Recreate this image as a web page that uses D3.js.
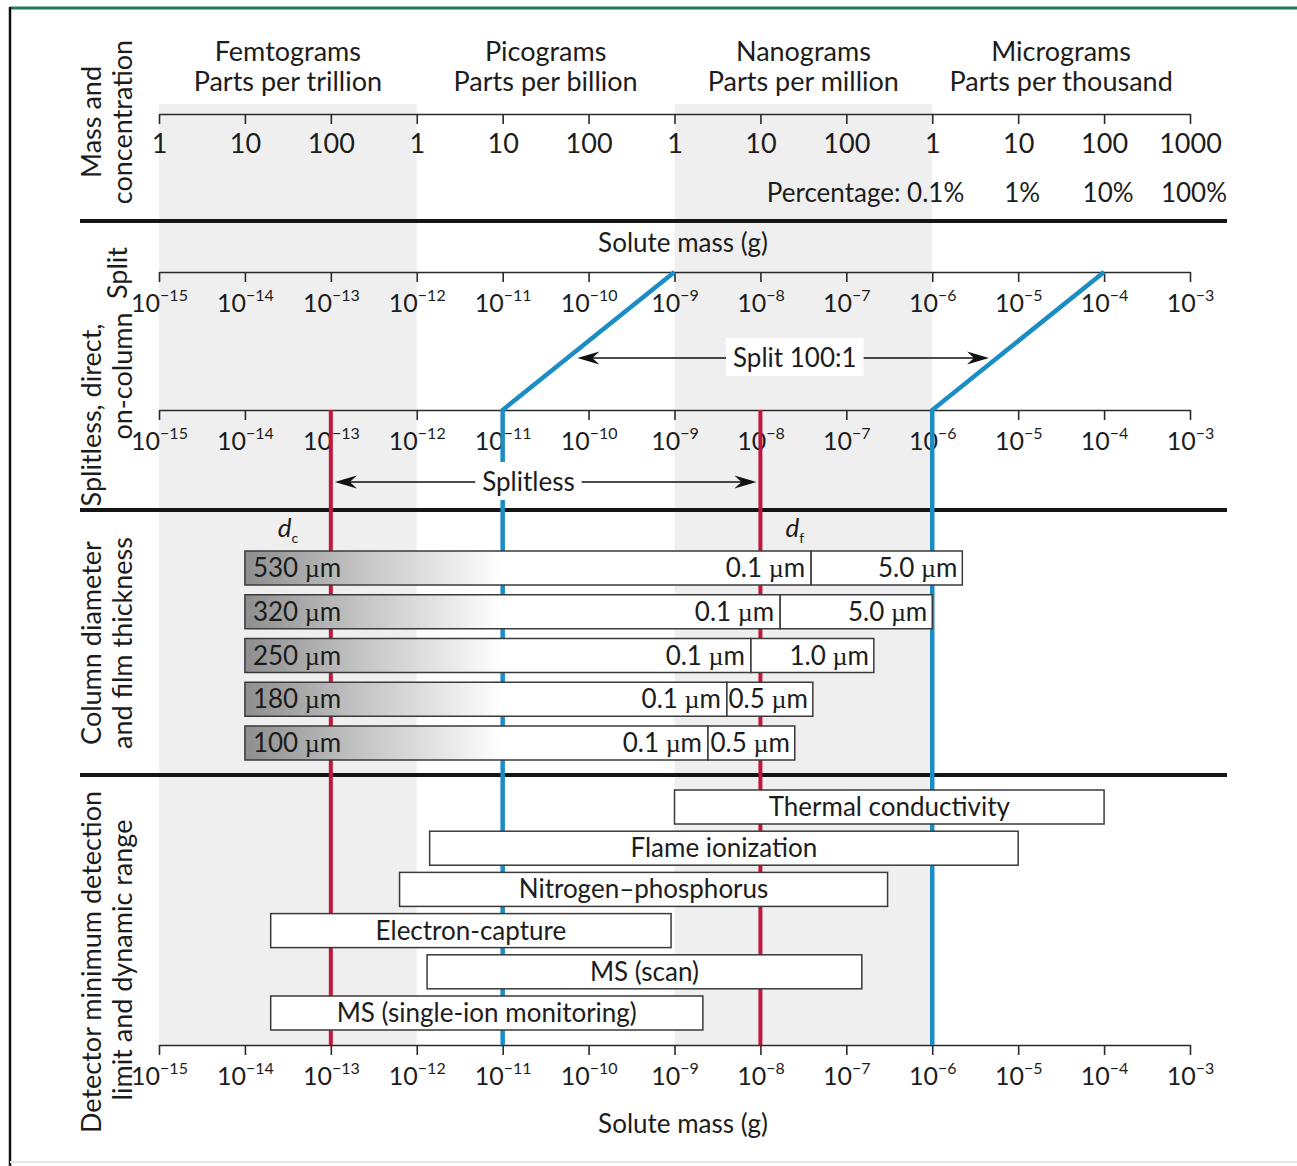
<!DOCTYPE html>
<html lang="en">
<head>
<meta charset="UTF-8">
<title>GC solute mass ranges</title>
<style>
  body { margin: 0; background: #fff; }
  svg text { font-family: Lato, "Noto Sans", sans-serif; fill: #1c1c1c; }
</style>
</head>
<body>
<svg id="chart" width="1297" height="1166"></svg>
<script src="https://d3js.org/d3.v7.min.js"></script>
<script>
// solute mass decades, log10(g)
var decades = d3.range(-15, -2);
var massUnits = ["Femtograms", "Picograms", "Nanograms", "Micrograms"];
var concUnits = ["Parts per trillion", "Parts per billion", "Parts per million", "Parts per thousand"];
var topTickLabels = ["1", "10", "100", "1", "10", "100", "1", "10", "100", "1", "10", "100", "1000"];
var pctLabels = ["0.1%", "1%", "10%", "100%"];
var pctDecades = [-6, -5, -4, -3];
var shadedBands = [[-15, -12], [-9, -6]];

// injection: splitless range on the column, split shifts it by log10(100)
var splitlessLimits = [-11, -6];
var splitShift = 2;
// column capacity limits (d_c and d_f)
var capacityLimits = [-13, -8];

// columns: diameter, start, thin film end, thick film end
var colDiam = ["530 \u00b5m", "320 \u00b5m", "250 \u00b5m", "180 \u00b5m", "100 \u00b5m"];
var colStart = [-14, -14, -14, -14, -14];
var colThinEnd = [-7.41, -7.77, -8.11, -8.39, -8.61];
var colThickEnd = [-5.65, -6.0, -6.68, -7.39, -7.6];
var thinFilm = ["0.1", "0.1", "0.1", "0.1", "0.1"];
var thickFilm = ["5.0", "5.0", "1.0", "0.5", "0.5"];

// detectors: minimum detection limit and top of dynamic range
var detNames = ["Thermal conductivity", "Flame ionization", "Nitrogen\u2013phosphorus",
                "Electron-capture", "MS (scan)", "MS (single-ion monitoring)"];
var detLow = [-9, -11.85, -12.2, -13.7, -11.88, -13.7];
var detHigh = [-4, -5, -6.52, -9.04, -6.82, -8.67];

var sideLabels = [
  {lines: ["Mass and", "concentration"], y: [122, 122]},
  {lines: ["Splitless, direct,", "on-column"], y: [415, 376]},
  {lines: ["Column diameter", "and film thickness"], y: [643, 643]},
  {lines: ["Detector minimum detection", "limit and dynamic range"], y: [962, 960]}
];

var svg = d3.select("#chart");
var BLUE = "#1b8cc4", RED = "#c2173d", INK = "#2a2a2a";

var x = d3.scaleLog().domain([1e-15, 1e-3]).range([159, 1190]);
function xl(p) { return x(Math.pow(10, p)); }

// frame
svg.append("line").attr("x1", 10).attr("x2", 1297).attr("y1", 8).attr("y2", 8)
  .attr("stroke", "#1f7a5c").attr("stroke-width", 3);
svg.append("line").attr("x1", 10).attr("x2", 10).attr("y1", 7).attr("y2", 1166)
  .attr("stroke", "#111").attr("stroke-width", 2.5);
svg.append("line").attr("x1", 10).attr("x2", 1297).attr("y1", 1162).attr("y2", 1162)
  .attr("stroke", "#e4e4e4").attr("stroke-width", 2);

// shaded decades
svg.selectAll("rect.band").data(shadedBands).enter().append("rect")
  .attr("class", "band")
  .attr("x", function(d) { return xl(d[0]); })
  .attr("width", function(d) { return xl(d[1]) - xl(d[0]); })
  .attr("y", 104).attr("height", 1046 - 104)
  .attr("fill", "#efefef");

// section dividers
[221, 510, 775].forEach(function(y) {
  svg.append("line").attr("x1", 80).attr("x2", 1227).attr("y1", y).attr("y2", y)
    .attr("stroke", "#151515").attr("stroke-width", 4);
});

// headings
var heads = svg.append("g");
massUnits.forEach(function(m, i) {
  var cx = xl(-13.5 + 3 * i);
  heads.append("text").attr("x", cx).attr("y", 61).attr("text-anchor", "middle")
    .attr("font-size", 27).text(m);
  heads.append("text").attr("x", cx).attr("y", 91).attr("text-anchor", "middle")
    .attr("font-size", 27).text(concUnits[i]);
});

function styleAxis(g) {
  g.select(".domain").attr("stroke", INK).attr("stroke-width", 1.6);
  g.selectAll(".tick line").attr("stroke", INK).attr("stroke-width", 1.6);
  g.selectAll(".tick text").attr("fill", "#1c1c1c").attr("font-family", "Lato, 'Noto Sans', sans-serif");
}

function powerAxis(y) {
  var g = svg.append("g").attr("transform", "translate(0," + y + ")")
    .call(d3.axisBottom(x).tickValues(decades.map(function(p) { return Math.pow(10, p); }))
      .tickSize(10).tickSizeOuter(0).tickPadding(12).tickFormat(function() { return ""; }));
  styleAxis(g);
  g.selectAll(".tick text").each(function(d) {
    var t = d3.select(this).attr("font-size", 25).attr("dy", "0.72em");
    t.append("tspan").text("10");
    t.append("tspan").attr("font-size", 16).attr("dy", -11)
      .text("\u2212" + Math.abs(Math.round(Math.log10(d))));
  });
  return g;
}

// mass and concentration axis
var topAxis = svg.append("g").attr("transform", "translate(0,114)")
  .call(d3.axisBottom(x).tickValues(decades.map(function(p) { return Math.pow(10, p); }))
    .tickSize(10).tickSizeOuter(0).tickPadding(10)
    .tickFormat(function(d, i) { return topTickLabels[i]; }));
styleAxis(topAxis);
topAxis.selectAll(".tick text").attr("font-size", 27);

svg.append("text").attr("x", xl(-6) + 32).attr("y", 202).attr("text-anchor", "end")
  .attr("font-size", 26).text("Percentage: " + pctLabels[0]);
pctLabels.slice(1).forEach(function(p, i) {
  svg.append("text").attr("x", xl(pctDecades[i + 1]) + 4).attr("y", 202)
    .attr("text-anchor", "middle").attr("font-size", 26).text(p);
});

svg.append("text").attr("x", xl(-8.9)).attr("y", 252).attr("text-anchor", "middle")
  .attr("font-size", 26).text("Solute mass (g)");

// injection axes
powerAxis(272);
powerAxis(410);
powerAxis(1045);
svg.append("text").attr("x", xl(-8.9)).attr("y", 1133).attr("text-anchor", "middle")
  .attr("font-size", 26).text("Solute mass (g)");

// blue split/splitless limits
var blues = svg.append("g").attr("stroke", BLUE).attr("stroke-width", 4.5).attr("fill", "none");
splitlessLimits.forEach(function(p) {
  blues.append("path").attr("d", d3.line()([
    [xl(p), 1045], [xl(p), 410], [xl(p + splitShift), 272]
  ]));
});
// red capacity limits
var reds = svg.append("g").attr("stroke", RED).attr("stroke-width", 4).attr("fill", "none");
capacityLimits.forEach(function(p) {
  reds.append("line").attr("x1", xl(p)).attr("x2", xl(p)).attr("y1", 410).attr("y2", 1045);
});

// arrows
function dart(tipX, y, dir) {
  var L = 22, w = 6.5, n = 15;
  svg.append("path").attr("fill", "#111")
    .attr("d", "M" + tipX + "," + y +
      "L" + (tipX - dir * L) + "," + (y - w) +
      "L" + (tipX - dir * n) + "," + y +
      "L" + (tipX - dir * L) + "," + (y + w) + "Z");
}
function arrowPair(x0, x1, y, label, lx) {
  svg.append("line").attr("x1", x0 + 10).attr("x2", x1 - 10).attr("y1", y).attr("y2", y)
    .attr("stroke", "#111").attr("stroke-width", 1.4);
  dart(x0, y, -1);
  dart(x1, y, 1);
  var t = svg.append("text").attr("x", lx).attr("y", y + 9).attr("text-anchor", "middle")
    .attr("font-size", 26).text(label);
  var bb = t.node().getBBox();
  svg.insert("rect", function() { return t.node(); })
    .attr("x", bb.x - 7).attr("y", bb.y - 3).attr("width", bb.width + 14).attr("height", bb.height + 6)
    .attr("fill", "#fff");
}
// split arrow ends sit on the diagonals
function diagX(p, y) {
  var t = (410 - y) / (410 - 272);
  return xl(p) + t * (xl(p + splitShift) - xl(p));
}
arrowPair(diagX(splitlessLimits[0], 358) + 10, diagX(splitlessLimits[1], 358) - 8, 358, "Split 100:1", xl(-7.6));
arrowPair(xl(capacityLimits[0]) + 4, xl(capacityLimits[1]) - 4, 482, "Splitless", xl(-10.7));

// d_c and d_f
[["d", "c", -13.5], ["d", "f", -7.6]].forEach(function(s) {
  var t = svg.append("text").attr("x", xl(s[2])).attr("y", 537).attr("text-anchor", "middle")
    .attr("font-size", 26).attr("font-style", "italic");
  t.append("tspan").text(s[0]);
  t.append("tspan").attr("font-size", 14).attr("dy", 6).attr("font-style", "normal").text(s[1]);
});

// column bars
var defs = svg.append("defs");
var grad = defs.append("linearGradient").attr("id", "colgrad")
  .attr("gradientUnits", "userSpaceOnUse")
  .attr("x1", xl(-14)).attr("x2", xl(-11)).attr("y1", 0).attr("y2", 0);
grad.append("stop").attr("offset", 0).attr("stop-color", "#8e8e8e");
grad.append("stop").attr("offset", 0.45).attr("stop-color", "#c4c4c4");
grad.append("stop").attr("offset", 1).attr("stop-color", "#ffffff");

var colY = d3.scalePoint().domain(colDiam).range([568, 743]);
var barH = 34;

function um(t, num) {
  t.append("tspan").text(num + " ");
  t.append("tspan").attr("font-family", "'Liberation Serif', serif").text("\u00b5");
  t.append("tspan").text("m");
}

colDiam.forEach(function(d, i) {
  var y = colY(d) - barH / 2;
  svg.append("rect").attr("x", xl(colStart[i])).attr("y", y)
    .attr("width", xl(colThinEnd[i]) - xl(colStart[i])).attr("height", barH)
    .attr("fill", "url(#colgrad)").attr("stroke", "#3a3a3a").attr("stroke-width", 1.5);
  svg.append("rect").attr("x", xl(colThinEnd[i])).attr("y", y)
    .attr("width", xl(colThickEnd[i]) - xl(colThinEnd[i])).attr("height", barH)
    .attr("fill", "#fff").attr("stroke", "#3a3a3a").attr("stroke-width", 1.5);
  var a = svg.append("text").attr("x", xl(colStart[i]) + 8).attr("y", colY(d) + 9)
    .attr("font-size", 26);
  um(a, d.split(" ")[0]);
  var b = svg.append("text").attr("x", xl(colThinEnd[i]) - 6).attr("y", colY(d) + 9)
    .attr("text-anchor", "end").attr("font-size", 26);
  um(b, thinFilm[i]);
  var c = svg.append("text").attr("x", xl(colThickEnd[i]) - 5).attr("y", colY(d) + 9)
    .attr("text-anchor", "end").attr("font-size", 26);
  um(c, thickFilm[i]);
});

// detector ranges
var detY = d3.scalePoint().domain(detNames).range([807, 1013]);
var detH = 34;
detNames.forEach(function(n, i) {
  svg.append("rect").attr("x", xl(detLow[i])).attr("y", detY(n) - detH / 2)
    .attr("width", xl(detHigh[i]) - xl(detLow[i])).attr("height", detH)
    .attr("fill", "#fff").attr("stroke", "#3a3a3a").attr("stroke-width", 1.5);
  svg.append("text").attr("x", (xl(detLow[i]) + xl(detHigh[i])) / 2).attr("y", detY(n) + 9)
    .attr("text-anchor", "middle").attr("font-size", 26).text(n);
});

// rotated section labels
sideLabels.forEach(function(s) {
  s.lines.forEach(function(l, j) {
    svg.append("text").attr("transform", "translate(" + (101 + 31 * j) + "," + s.y[j] + ") rotate(-90)")
      .attr("text-anchor", "middle").attr("font-size", 27).text(l);
  });
});
svg.append("text").attr("transform", "translate(127,273) rotate(-90)")
  .attr("text-anchor", "middle").attr("font-size", 27).text("Split");
</script>
</body>
</html>
